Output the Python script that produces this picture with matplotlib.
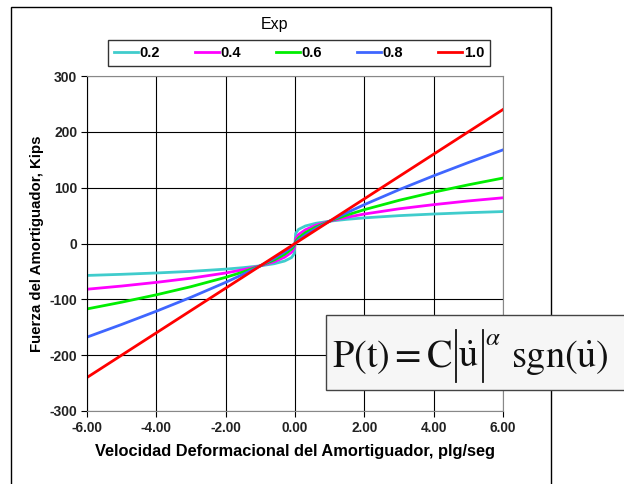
import numpy as np
import matplotlib.pyplot as plt
from matplotlib.patches import Rectangle
from matplotlib.lines import Line2D

# velocidad (plg/seg) y fuerza (kips)
vel = [-6.0, -5.0, -4.0, -3.0, -2.0, -1.5, -1.0, -0.6, -0.3, -0.1, -0.02, 0.0,
       0.02, 0.1, 0.3, 0.6, 1.0, 1.5, 2.0, 3.0, 4.0, 5.0, 6.0]

f02 = [-57.2, -55.2, -52.8, -49.9, -45.9, -43.3, -40.0, -36.2, -31.4, -25.2, -18.2, 0.0,
       18.2, 25.2, 31.4, 36.2, 40.0, 43.3, 45.9, 49.9, 52.8, 55.2, 57.2]
f04 = [-81.9, -76.2, -69.6, -62.1, -52.8, -47.0, -40.0, -32.7, -24.6, -15.9, -8.3, 0.0,
       8.3, 15.9, 24.6, 32.7, 40.0, 47.0, 52.8, 62.1, 69.6, 76.2, 81.9]
f06 = [-117.2, -105.1, -91.9, -77.3, -60.6, -51.0, -40.0, -29.5, -19.4, -10.0, -3.8, 0.0,
       3.8, 10.0, 19.4, 29.5, 40.0, 51.0, 60.6, 77.3, 91.9, 105.1, 117.2]
f08 = [-167.7, -145.0, -121.3, -96.3, -69.6, -55.2, -40.0, -26.6, -15.2, -6.3, -1.7, 0.0,
       1.7, 6.3, 15.2, 26.6, 40.0, 55.2, 69.6, 96.3, 121.3, 145.0, 167.7]
f10 = [-240.0, -200.0, -160.0, -120.0, -80.0, -60.0, -40.0, -24.0, -12.0, -4.0, -0.8, 0.0,
       0.8, 4.0, 12.0, 24.0, 40.0, 60.0, 80.0, 120.0, 160.0, 200.0, 240.0]

series = [f02, f04, f06, f08, f10]
labels = ['0.2', '0.4', '0.6', '0.8', '1.0']
colores = ['#40cccc', '#ff00ff', '#00ee00', '#3f66ff', '#ff0000']

xticks = [-6, -4, -2, 0, 2, 4, 6]
yticks = [-300, -200, -100, 0, 100, 200, 300]

plt.rcParams['font.family'] = ['Liberation Sans', 'DejaVu Sans']

fig = plt.figure(figsize=(6.24, 4.84), dpi=100)
W, H = 624, 484

# marco exterior
fig.patches.append(Rectangle((11 / W, -0.1), (551 - 11) / W, 1.1 - 7 / H,
                             transform=fig.transFigure, fill=False,
                             edgecolor='black', linewidth=1.0))

ax = fig.add_axes([87 / W, 1 - 411 / H, (503 - 87) / W, (411 - 76) / H])

for fz, lab, c in zip(series, labels, colores):
    ax.plot(vel, fz, color=c, linewidth=2.0, label=lab)

ax.set_xlim(-6, 6)
ax.set_ylim(-300, 300)
ax.set_xticks(xticks)
ax.set_yticks(yticks)
ax.set_xticklabels(['%.2f' % v for v in xticks], fontsize=9.8, fontweight='bold', color='#222')
ax.set_yticklabels([str(v) for v in yticks], fontsize=10, fontweight='bold', color='#222')
ax.tick_params(axis='both', direction='out', length=4, width=0.8, pad=3)
ax.grid(True, color='black', linewidth=0.8)
ax.set_axisbelow(True)
for s in ['top', 'right', 'bottom']:
    ax.spines[s].set_color('#888888')
ax.spines['left'].set_color('black')

ax.set_xlabel('Velocidad Deformacional del Amortiguador, plg/seg', fontsize=11.8,
              fontweight='bold', labelpad=7)
ax.set_ylabel('Fuerza del Amortiguador, Kips', fontsize=10.8, fontweight='bold', labelpad=4)

# leyenda con titulo por encima
fig.text(275 / W, 1 - 25 / H, 'Exp', ha='center', va='center', fontsize=11.5)
leg = fig.legend(loc='center', bbox_to_anchor=(299 / W, 1 - 53 / H), ncol=5,
                 frameon=True, fancybox=False, edgecolor='black', handlelength=1.65,
                 handletextpad=0.1, columnspacing=2.4, borderpad=0.4,
                 prop={'weight': 'bold', 'size': 10.5})
leg.get_frame().set_linewidth(1.0)

# recuadro con la ecuacion
fig.patches.append(Rectangle((326 / W, 1 - 390 / H), 0.6, 75 / H,
                             transform=fig.transFigure, facecolor='#f6f6f6',
                             edgecolor='#444444', linewidth=1.0, zorder=5))

renderer = fig.canvas.get_renderer()
y_base = H - 367.0


def pieza(x, txt, fs, dy=0):
    t = fig.text(x / W, (y_base + dy) / H, txt, fontsize=fs, ha='left', va='baseline',
                 zorder=6, math_fontfamily='stix', color='#111')
    return t.get_window_extent(renderer).x1


def barra(x):
    fig.lines.append(Line2D([x / W, x / W], [(H - 382) / H, (H - 330) / H],
                            transform=fig.transFigure, color='#111', linewidth=1.3,
                            zorder=6))


x = pieza(332, r'$\mathrm{P(t)=C}$', 27.5)
barra(x + 3)
x = pieza(x + 5, r'$\dot{\mathrm{u}}$', 27.5)
barra(x + 5)
x = pieza(x + 7, r'$\alpha$', 18, dy=22)
pieza(x + 10, r'$\mathrm{sgn}(\dot{\mathrm{u}})$', 27.5)

fig.savefig('out.png', dpi=100)
